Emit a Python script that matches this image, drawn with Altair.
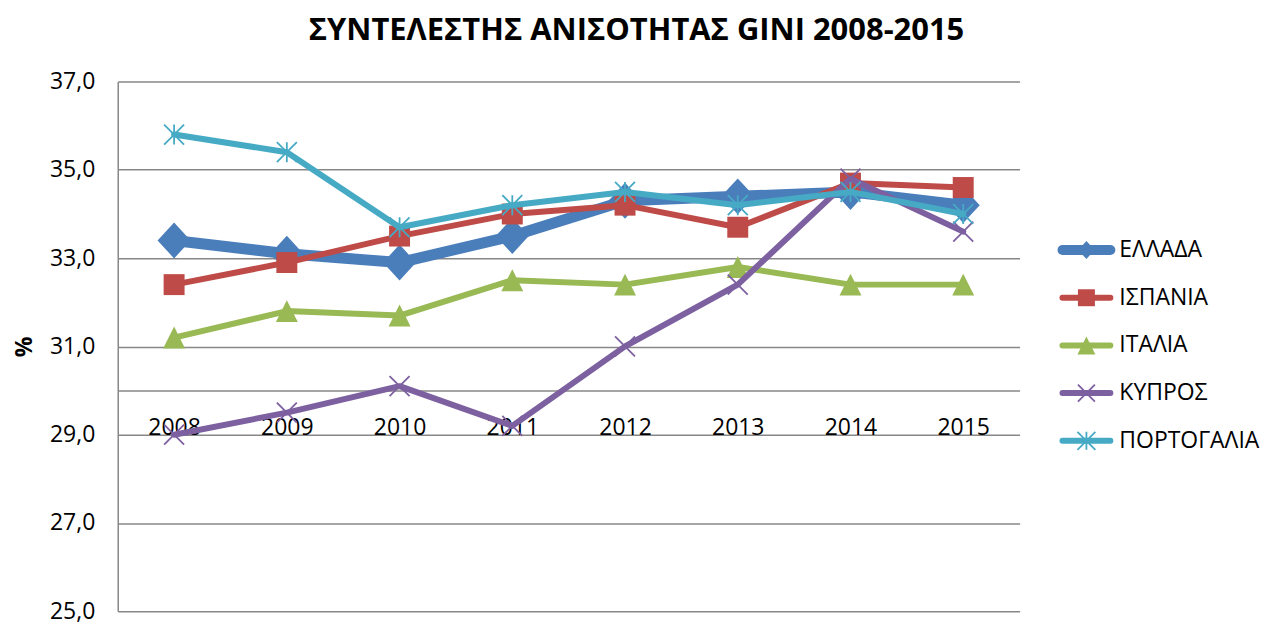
import altair as alt
import pandas as pd

# ---------------- data ----------------
years = ["2008", "2009", "2010", "2011", "2012", "2013", "2014", "2015"]
series_names = ["ΕΛΛΑΔΑ", "ΙΣΠΑΝΙΑ", "ΙΤΑΛΙΑ", "ΚΥΠΡΟΣ", "ΠΟΡΤΟΓΑΛΙΑ"]
greece = [33.4, 33.1, 32.9, 33.5, 34.3, 34.4, 34.5, 34.2]
spain = [32.4, 32.9, 33.5, 34.0, 34.2, 33.7, 34.7, 34.6]
italy = [31.2, 31.8, 31.7, 32.5, 32.4, 32.8, 32.4, 32.4]
cyprus = [29.0, 29.5, 30.1, 29.2, 31.0, 32.4, 34.8, 33.6]
portugal = [35.8, 35.4, 33.7, 34.2, 34.5, 34.2, 34.5, 34.0]
y_ticks = [25, 27, 29, 31, 33, 35, 37]
y_domain = [25, 37]
x_axis_cross = 30
title_text = "ΣΥΝΤΕΛΕΣΤΗΣ ΑΝΙΣΟΤΗΤΑΣ GINI 2008-2015"
y_title = "%"

values_by_series = dict(zip(series_names, [greece, spain, italy, cyprus, portugal]))
rows = []
for s in series_names:
    for yr, v in zip(years, values_by_series[s]):
        rows.append({"series": s, "year": yr, "value": v})
df = pd.DataFrame(rows)
leg_df = pd.DataFrame({"series": series_names})

# ---------------- styles ----------------
FONT = "Open Sans"
GRID = "#878787"
PW, PH = 904, 531

DIAMOND = "M0,-1L0.92,0L0,1L-0.92,0Z"
SQUARE = "M-1,-1H1V1H-1Z"
TRIANGLE = "M0,-1L1,1L-1,1Z"
XMARK = "M-1,-1L1,1M1,-1L-1,1"
STAR = "M-1,-1L1,1M1,-1L-1,1M0,-1L0,1"

styles = {
    "ΕΛΛΑΔΑ": dict(color="#4A7EBB", width=11, lwidth=10, shape=DIAMOND, size=1296, lsize=324, filled=True),
    "ΙΣΠΑΝΙΑ": dict(color="#BE4B48", width=6, lwidth=6, shape=SQUARE, size=441, lsize=289, filled=True),
    "ΙΤΑΛΙΑ": dict(color="#98B954", width=6, lwidth=6, shape=TRIANGLE, size=484, lsize=324, filled=True),
    "ΚΥΠΡΟΣ": dict(color="#7D60A0", width=6, lwidth=6, shape=XMARK, size=400, lsize=289, filled=False),
    "ΠΟΡΤΟΓΑΛΙΑ": dict(color="#46AAC5", width=6, lwidth=6, shape=STAR, size=400, lsize=324, filled=False),
}

x_offset = -(x_axis_cross - y_domain[0]) / (y_domain[1] - y_domain[0]) * PH

x_enc = alt.X(
    "year:O",
    sort=years,
    scale=alt.Scale(domain=years),
    axis=alt.Axis(
        title=None, labelAngle=0, labelFont=FONT, labelFontSize=23, labelColor="black",
        ticks=False, tickSize=0, labelPadding=26, grid=False,
        domainColor=GRID, domainWidth=1.5, offset=x_offset,
    ),
)
y_enc = alt.Y(
    "value:Q",
    scale=alt.Scale(domain=y_domain, nice=False, zero=False),
    axis=alt.Axis(
        values=y_ticks, title=y_title, titleFont=FONT, titleFontSize=23,
        titleFontWeight="bold", titleColor="black", titlePadding=13,
        labelExpr="replace(format(datum.value, '.1f'), '.', ',')",
        labelFont=FONT, labelFontSize=23, labelColor="black", labelPadding=23,
        ticks=False, tickSize=0, domainColor=GRID, domainWidth=1.5,
        grid=True, gridColor=GRID, gridWidth=1.5, gridOpacity=1,
    ),
)

layers = []
for name in series_names:
    st = styles[name]
    base = alt.Chart(df).transform_filter(alt.datum.series == name)
    layers.append(
        base.mark_line(color=st["color"], strokeWidth=st["width"], strokeJoin="round", strokeCap="round")
        .encode(x=x_enc, y=y_enc)
    )
    layers.append(
        base.mark_point(shape=st["shape"], size=st["size"], filled=st["filled"], color=st["color"],
                        opacity=1, strokeWidth=1.8)
        .encode(x=x_enc, y=y_enc)
    )
main = alt.layer(*layers).properties(width=PW, height=PH)

# ---------------- legend panel ----------------
ly = alt.Y("series:N", scale=alt.Scale(domain=series_names, range=[145, 384]), axis=None)
leg_layers = []
for name in series_names:
    st = styles[name]
    b = alt.Chart(leg_df).transform_filter(alt.datum.series == name)
    leg_layers.append(
        b.mark_rule(color=st["color"], strokeWidth=st["lwidth"], strokeCap="round")
        .encode(y=ly, x=alt.value(5), x2=alt.value(53))
    )
    leg_layers.append(
        b.mark_point(shape=st["shape"], size=st["lsize"], filled=st["filled"], color=st["color"],
                     opacity=1, strokeWidth=1.8)
        .encode(y=ly, x=alt.value(29))
    )
leg_layers.append(
    alt.Chart(leg_df).mark_text(align="left", baseline="middle", font=FONT, fontSize=23, color="black")
    .encode(y=ly, x=alt.value(62), text="series:N")
)
legend = alt.layer(*leg_layers).properties(width=200, height=PH)

chart = (
    alt.hconcat(main, legend, spacing=38)
    .properties(
        title=alt.TitleParams(title_text, font=FONT, fontSize=31, fontWeight="bold", color="black",
                              anchor="middle", offset=24),
        padding={"left": 5, "top": 6, "right": 0, "bottom": 0},
    )
    .configure_view(strokeWidth=0)
)

chart.save("out.html", embed_options={"renderer": "svg", "actions": False})
